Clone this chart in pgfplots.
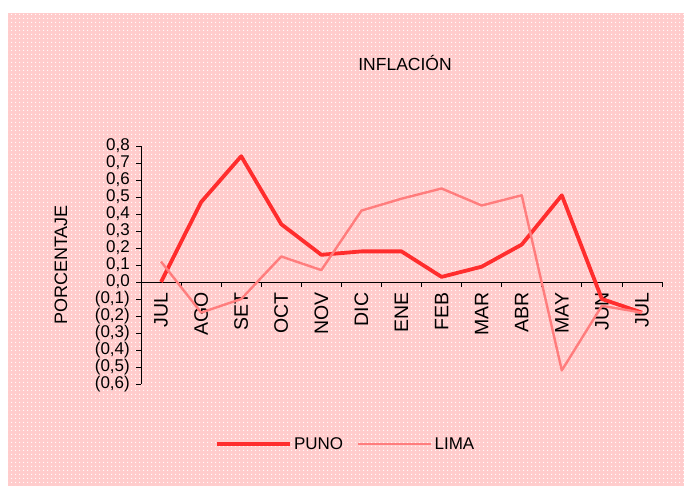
\documentclass[border=0pt]{standalone}
\usepackage{pgfplots}
\pgfplotsset{compat=1.18}
\usepackage{fontspec}
\setmainfont{Liberation Sans}
\usetikzlibrary{patterns.meta}
\definecolor{bgpink}{RGB}{255,204,204}
\definecolor{punoc}{RGB}{255,45,45}
\definecolor{limac}{RGB}{255,125,125}
\begin{document}
\begin{tikzpicture}[x=1pt,y=1pt]
\path[use as bounding box] (0,0) rectangle (684,486);
\fill[bgpink] (8,0) rectangle (684,473);
\fill[pattern={Dots[distance=4pt,radius=0.75pt]},pattern color=white] (8,0) rectangle (684,473);
\node[font=\fontsize{17.5}{20}\selectfont] at (405,423) {INFLACIÓN};
\node[font=\fontsize{18}{20}\selectfont,rotate=90] at (61,221) {PORCENTAJE};
\begin{axis}[
  at={(141pt,102pt)}, anchor=south west,
  width=521pt, height=238pt, scale only axis,
  xmin=-0.5, xmax=12.5, ymin=-0.6, ymax=0.8,
  axis x line*=middle, axis y line*=left,
  axis line style={black, line width=0.8pt},
  xtick={0,...,12},
  xticklabels={JUL,AGO,SET,OCT,NOV,DIC,ENE,FEB,MAR,ABR,MAY,JUN,JUL},
  major x tick style={draw=none},
  minor xtick={0.5,1.5,...,12.5},
  minor tick length=5pt,
  minor x tick style={black, line width=0.8pt},
  xticklabel style={rotate=90, anchor=east, font=\fontsize{19.5}{22}\selectfont, yshift=0pt, xshift=-2pt},
  ytick={-0.6,-0.5,-0.4,-0.3,-0.2,-0.1,0,0.1,0.2,0.3,0.4,0.5,0.6,0.7,0.8},
  yticklabels={(0{,}6),(0{,}5),(0{,}4),(0{,}3),(0{,}2),(0{,}1),0{,}0,0{,}1,0{,}2,0{,}3,0{,}4,0{,}5,0{,}6,0{,}7,0{,}8},
  yticklabel style={font=\fontsize{17}{17}\selectfont, inner sep=0pt, xshift=-6pt},
  tick align=outside, major tick length=5pt,
  major y tick style={black, line width=0.8pt},
  legend style={at={(0.393,-0.252)}, anchor=center, draw=none, fill=none,
    font=\fontsize{17}{20}\selectfont, legend columns=2,
    /tikz/every even column/.append style={column sep=12pt}},
  legend image code/.code={\draw[#1] (0pt,0pt) -- (73pt,0pt);},
  clip=false,
]
\addplot[punoc, line width=3.8pt, line join=round] coordinates {
(0,0.00) (1,0.47) (2,0.74) (3,0.34) (4,0.16) (5,0.18) (6,0.18) (7,0.03) (8,0.09) (9,0.22) (10,0.51) (11,-0.10) (12,-0.18)};
\addlegendentry{PUNO}
\addplot[limac, line width=2.4pt, line join=round] coordinates {
(0,0.12) (1,-0.18) (2,-0.10) (3,0.15) (4,0.07) (5,0.42) (6,0.49) (7,0.55) (8,0.45) (9,0.51) (10,-0.52) (11,-0.14) (12,-0.18)};
\addlegendentry{LIMA}
\end{axis}
\end{tikzpicture}
\end{document}
